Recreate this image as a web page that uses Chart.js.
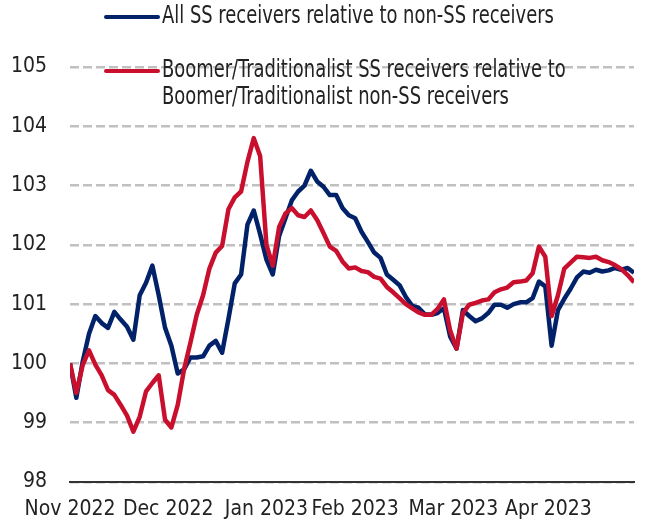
<!DOCTYPE html>
<html>
<head>
<meta charset="utf-8">
<script src="https://cdn.jsdelivr.net/npm/chart.js@4.4.0/dist/chart.umd.min.js"></script>
<style>
  html, body { margin: 0; padding: 0; background: #fff; }
</style>
</head>
<body>
<canvas id="myChart" width="647" height="524"></canvas>
<script>
// days since 1 Nov 2022, one point every two days
const days = [0, 2, 4, 6, 8, 10, 12, 14, 16, 18, 20, 22, 24, 26, 28, 30, 32, 34, 36, 38,
  40, 42, 44, 46, 48, 50, 52, 54, 56, 58, 60, 62, 64, 66, 68, 70, 72, 74, 76, 78,
  80, 82, 84, 86, 88, 90, 92, 94, 96, 98, 100, 102, 104, 106, 108, 110, 112, 114, 116, 118,
  120, 122, 124, 126, 128, 130, 132, 134, 136, 138, 140, 142, 144, 146, 148, 150, 152, 154, 156, 158,
  160, 162, 164, 166, 168, 170, 172, 174, 176, 178];

const allSS = [100.0, 99.42, 100.03, 100.5, 100.8, 100.68, 100.6, 100.87, 100.74, 100.62,
  100.4, 101.15, 101.36, 101.65, 101.15, 100.6, 100.3, 99.83, 99.9, 100.1,
  100.1, 100.12, 100.3, 100.38, 100.18, 100.75, 101.35, 101.5, 102.34, 102.58,
  102.18, 101.75, 101.5, 102.15, 102.45, 102.75, 102.9, 103.0, 103.25, 103.07,
  102.98, 102.84, 102.84, 102.62, 102.5, 102.45, 102.22, 102.05, 101.87, 101.78,
  101.5, 101.41, 101.32, 101.12, 100.97, 100.94, 100.83, 100.82, 100.85, 100.93,
  100.45, 100.25, 100.9, 100.8, 100.71, 100.76, 100.85, 100.99, 100.99, 100.94,
  101.0, 101.03, 101.03, 101.1, 101.38, 101.3, 100.3, 100.9, 101.09, 101.26,
  101.45, 101.55, 101.53, 101.58, 101.55, 101.57, 101.61, 101.58, 101.61, 101.53];

const boomerSS = [100.0, 99.5, 99.97, 100.22, 99.98, 99.8, 99.55, 99.47, 99.3, 99.12,
  98.85, 99.1, 99.53, 99.67, 99.8, 99.05, 98.92, 99.3, 99.9, 100.35,
  100.82, 101.15, 101.6, 101.87, 101.98, 102.6, 102.8, 102.9, 103.4, 103.8,
  103.5, 102.0, 101.65, 102.3, 102.53, 102.62, 102.5, 102.47, 102.58, 102.42,
  102.2, 101.97, 101.9, 101.72, 101.6, 101.62, 101.56, 101.54, 101.46, 101.43,
  101.29, 101.2, 101.1, 101.0, 100.93, 100.86, 100.82, 100.82, 100.92, 101.08,
  100.55, 100.25, 100.85, 100.99, 101.02, 101.06, 101.08, 101.2, 101.25, 101.28,
  101.37, 101.38, 101.4, 101.52, 101.97, 101.8, 100.8, 101.15, 101.6, 101.7,
  101.8, 101.79, 101.78, 101.8, 101.74, 101.71, 101.66, 101.59, 101.49, 101.37];

const tickDays = [0, 31, 62, 90, 121, 151];
const tickLabels = ["Nov 2022", "Dec 2022", "Jan 2023", "Feb 2023", "Mar 2023", "Apr 2023"];

const seriesNames = [
  ["All SS receivers relative to non-SS receivers"],
  ["Boomer/Traditionalist SS receivers relative to", "Boomer/Traditionalist non-SS receivers"]
];

const NAVY = "#012169";
const RED = "#c8102e";
const FONT = "'DejaVu Sans Condensed', 'DejaVu Sans', sans-serif";

Chart.defaults.font.family = FONT;
Chart.defaults.color = "#222";

// legend drawn by hand: the second entry wraps onto two lines,
// text squeezed a bit to mimic the narrow face of the original
const legendPlugin = {
  id: "wrappedLegend",
  afterDraw(chart) {
    const ctx = chart.ctx;
    const rows = [17, 71];
    ctx.save();
    ctx.font = "24px " + FONT;
    ctx.textBaseline = "middle";
    chart.data.datasets.forEach((ds, i) => {
      const y = rows[i];
      ctx.strokeStyle = ds.borderColor;
      ctx.lineWidth = 4;
      ctx.lineCap = "round";
      ctx.beginPath();
      ctx.moveTo(106, y);
      ctx.lineTo(158, y);
      ctx.stroke();
      ctx.fillStyle = "#222";
      seriesNames[i].forEach((line, j) => {
        ctx.save();
        ctx.translate(162, y + j * 27);
        ctx.scale(0.83, 1);
        ctx.fillText(line, 0, 0);
        ctx.restore();
      });
    });
    ctx.restore();
  }
};

const toPoints = vals => vals.map((v, i) => ({ x: days[i], y: v }));

new Chart(document.getElementById("myChart").getContext("2d"), {
  type: "line",
  data: {
    datasets: [
      {
        label: seriesNames[0].join(" "),
        data: toPoints(allSS),
        borderColor: NAVY,
        borderWidth: 4.5,
        pointRadius: 0,
        tension: 0,
        borderJoinStyle: "round",
        order: 1
      },
      {
        label: seriesNames[1].join(" "),
        data: toPoints(boomerSS),
        borderColor: RED,
        borderWidth: 4.5,
        pointRadius: 0,
        tension: 0,
        borderJoinStyle: "round",
        order: 0
      }
    ]
  },
  options: {
    responsive: false,
    animation: false,
    layout: { padding: { top: 67, right: 13, left: 0, bottom: 0 } },
    plugins: {
      legend: { display: false },
      tooltip: { enabled: false }
    },
    scales: {
      x: {
        type: "linear",
        min: 0,
        max: 178,
        grid: { display: false, drawTicks: false },
        border: { display: true, color: "#333", width: 2 },
        afterBuildTicks: scale => {
          scale.ticks = tickDays.map(v => ({ value: v }));
        },
        afterFit: scale => { scale.height = 42; },
        ticks: {
          autoSkip: false,
          maxRotation: 0,
          padding: 15,
          font: { size: 21 },
          color: "#222",
          callback: value => tickLabels[tickDays.indexOf(value)]
        }
      },
      y: {
        min: 98,
        max: 105,
        grid: { color: "#c0c0c0", lineWidth: 2.5, drawTicks: false },
        border: { display: false, dash: [9, 4] },
        afterFit: scale => { scale.width = 70; },
        ticks: {
          stepSize: 1,
          padding: 23,
          font: { size: 21 },
          color: "#222"
        }
      }
    }
  },
  plugins: [legendPlugin]
});
</script>
</body>
</html>
